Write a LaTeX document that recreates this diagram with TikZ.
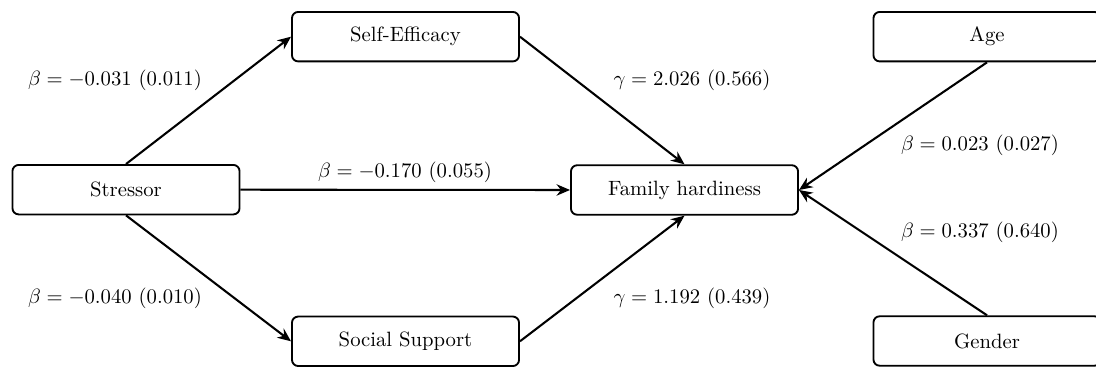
\documentclass[tikz,border=0pt]{standalone}
\usetikzlibrary{arrows.meta}
\tikzset{
  var/.style={draw, line width=0.9pt, rounded corners=3pt, minimum width=109.7pt, minimum height=23.9pt, inner sep=0pt, fill=white},
  path/.style={line width=1pt, -{Stealth[length=6.5pt,width=5.5pt]}},
  coef/.style={inner sep=0pt}
}
\begin{document}
\begin{tikzpicture}[x=0.4831pt, y=-0.4831pt]
\useasboundingbox (0,0) rectangle (1096,367);
\clip (0,0) rectangle (1096,367);
\node[var] (S) at (126,189.7) {Stressor};
\node[var] (SE) at (405.5,36.7) {Self-Efficacy};
\node[var] (FH) at (684.5,190) {Family hardiness};
\node[var] (SS) at (405.5,341.3) {Social Support};
\node[var] (A) at (987,36.7) {Age};
\node[var] (G) at (987,341) {Gender};
\draw[path] (S.north) -- (SE.west);
\draw[path] (SE.east) -- (FH.north);
\draw[path] (S.east) -- (FH.west);
\draw[path] (S.south) -- (SS.west);
\draw[path] (SS.east) -- (FH.south);
\draw[path] (A.south) -- (FH.east);
\draw[path] (G.north) -- (FH.east);
\node[coef] (l1) at (115,80) {$\beta = -0.031\ (0.011)$};
\node[coef] (l2) at (692,80) {$\gamma = 2.026\ (0.566)$};
\node[coef] (l3) at (405,172) {$\beta = -0.170\ (0.055)$};
\node[coef] (l4) at (980,145) {$\beta = 0.023\ (0.027)$};
\node[coef] (l5) at (980,232) {$\beta = 0.337\ (0.640)$};
\node[coef] (l6) at (115,298) {$\beta = -0.040\ (0.010)$};
\node[coef] (l7) at (692,298) {$\gamma = 1.192\ (0.439)$};
\end{tikzpicture}
\end{document}
